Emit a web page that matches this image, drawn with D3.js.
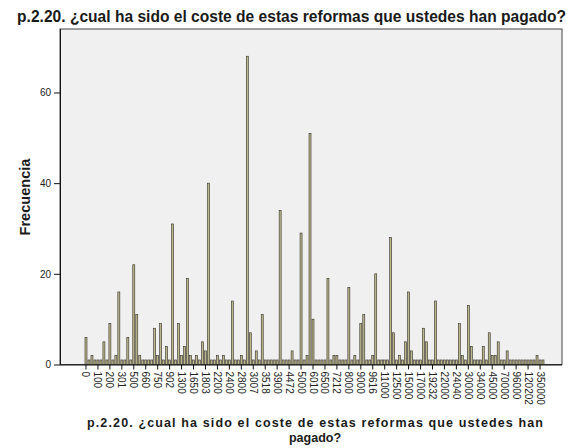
<!DOCTYPE html>
<meta charset="utf-8" />
<style>
  body {
    margin: 0;
    background: #fff;
  }
  text {
    font-family: "Liberation Sans", Arial, sans-serif;
    fill: #1a1a1a;
  }
  .title {
    font-weight: bold;
    font-size: 14px;
  }
  .tick text {
    font-size: 10px;
    fill: #222;
  }
</style>
<body>
  <script src="https://d3js.org/d3.v7.min.js"></script>
  <script>
    // labels SPSS printed under every 4th category
    var tickLabels = ["0", "100", "200", "301", "500", "660", "750", "902",
      "1300", "1650", "1803", "2200", "2400", "2800", "3007", "3518", "3900",
      "4472", "5000", "6010", "6500", "7212", "8000", "9000", "9616", "11000",
      "12500", "15000", "17000", "19232", "22000", "24040", "30000", "34000",
      "45000", "70000", "96000", "120202", "350000"];

    // frequency of each category, left to right
    var counts = [
      6, 1, 2, 1, 1, 1, 5, 1, 9, 1, 2, 16, 1, 1, 6, 1, 22, 11, 2, 1,
      1, 1, 1, 8, 2, 9, 1, 4, 1, 31, 1, 9, 2, 4, 19, 2, 1, 2, 1, 5,
      3, 40, 1, 1, 2, 1, 2, 1, 1, 14, 1, 1, 2, 1, 68, 7, 1, 3, 1, 11,
      1, 1, 1, 1, 1, 34, 1, 1, 1, 3, 1, 1, 29, 1, 2, 51, 10, 1, 1, 1,
      1, 19, 1, 2, 2, 1, 1, 1, 17, 1, 2, 1, 9, 11, 1, 1, 2, 20, 1, 1,
      1, 1, 28, 7, 1, 2, 1, 5, 16, 3, 1, 1, 1, 8, 5, 1, 1, 14, 1, 1,
      1, 1, 1, 1, 1, 9, 2, 1, 13, 4, 1, 1, 1, 4, 1, 7, 2, 2, 5, 1,
      1, 3, 1, 1, 1, 1, 1, 1, 1, 1, 1, 2, 1, 1
    ];

    var yTicks = [0, 20, 40, 60];

    var titleText = "p.2.20. ¿cual ha sido el coste de estas reformas que ustedes han pagado?";
    var xTitleLines = ["p.2.20. ¿cual ha sido el coste de estas reformas que ustedes han", "pagado?"];

    var width = 569,
      height = 448;
    var plot = { left: 60, right: 562, top: 29, bottom: 364.5 };

    // shrink/grow a text so it takes the given width
    function fit(sel, w) {
      var fs = parseFloat(sel.style("font-size"));
      var len = sel.node().getComputedTextLength();
      sel.style("font-size", (fs * w) / len + "px");
    }

    var svg = d3
      .select("body")
      .append("svg")
      .attr("width", width)
      .attr("height", height);

    var x = d3
      .scaleBand()
      .domain(d3.range(counts.length))
      .range([84.5, 544.5]);

    var y = d3
      .scaleLinear()
      .domain([0, 74])
      .range([plot.bottom, plot.top]);

    // plot background
    svg
      .append("rect")
      .attr("x", plot.left)
      .attr("y", plot.top)
      .attr("width", plot.right - plot.left)
      .attr("height", plot.bottom - plot.top)
      .style("fill", "#f0f0f0")
      .style("stroke", "#444")
      .style("stroke-width", 1);

    // bars
    var bw = 2;
    svg
      .selectAll(".bar")
      .data(counts)
      .enter()
      .append("rect")
      .attr("class", "bar")
      .attr("x", (d, i) => x(i) + (x.bandwidth() - bw) / 2)
      .attr("y", d => y(d))
      .attr("width", bw)
      .attr("height", d => y(0) - y(d))
      .style("fill", "#bdb88c")
      .style("stroke", "#2e2e26")
      .style("stroke-width", 0.6);

    // y axis
    var yAxis = svg
      .append("g")
      .attr("transform", "translate(" + plot.left + ",0)")
      .call(d3.axisLeft(y).tickValues(yTicks).tickSize(6).tickFormat(d3.format("d")));
    yAxis.select(".domain").attr("d", "M0.5," + plot.top + "V" + plot.bottom).style("stroke", "#111");
    yAxis.selectAll(".tick line").style("stroke", "#111");

    // x axis
    var xAxis = svg
      .append("g")
      .attr("transform", "translate(0," + plot.bottom + ")")
      .call(
        d3
          .axisBottom(x)
          .tickValues(d3.range(0, counts.length, 4))
          .tickFormat(i => tickLabels[i / 4])
          .tickSize(5)
      );
    xAxis.select(".domain").attr("d", "M" + plot.left + ",0.5H" + plot.right).style("stroke", "#111");
    xAxis.selectAll(".tick line").style("stroke", "#111");
    xAxis
      .selectAll(".tick text")
      .attr("transform", "rotate(90)")
      .attr("x", 7)
      .attr("y", 0)
      .attr("dy", "0.35em")
      .style("text-anchor", "start");

    // titles
    var t = svg
      .append("text")
      .attr("class", "title")
      .attr("x", 291.5)
      .attr("y", 22)
      .attr("text-anchor", "middle")
      .text(titleText);
    fit(t, 549);

    // axis title on two lines, a bit smaller so the lines do not touch
    var xt1 = svg
      .append("text")
      .attr("class", "title")
      .attr("x", 315)
      .attr("y", 427)
      .attr("text-anchor", "middle")
      .style("font-size", "12.5px")
      .attr("textLength", 456)
      .attr("lengthAdjust", "spacing")
      .text(xTitleLines[0]);
    svg
      .append("text")
      .attr("class", "title")
      .attr("x", 315)
      .attr("y", 442)
      .attr("text-anchor", "middle")
      .style("font-size", "12.5px")
      .text(xTitleLines[1]);

    var yt = svg
      .append("text")
      .attr("class", "title")
      .attr("transform", "translate(25,197) rotate(-90)")
      .attr("dy", "0.35em")
      .attr("text-anchor", "middle")
      .text("Frecuencia");
    fit(yt, 77);
  </script>
</body>
